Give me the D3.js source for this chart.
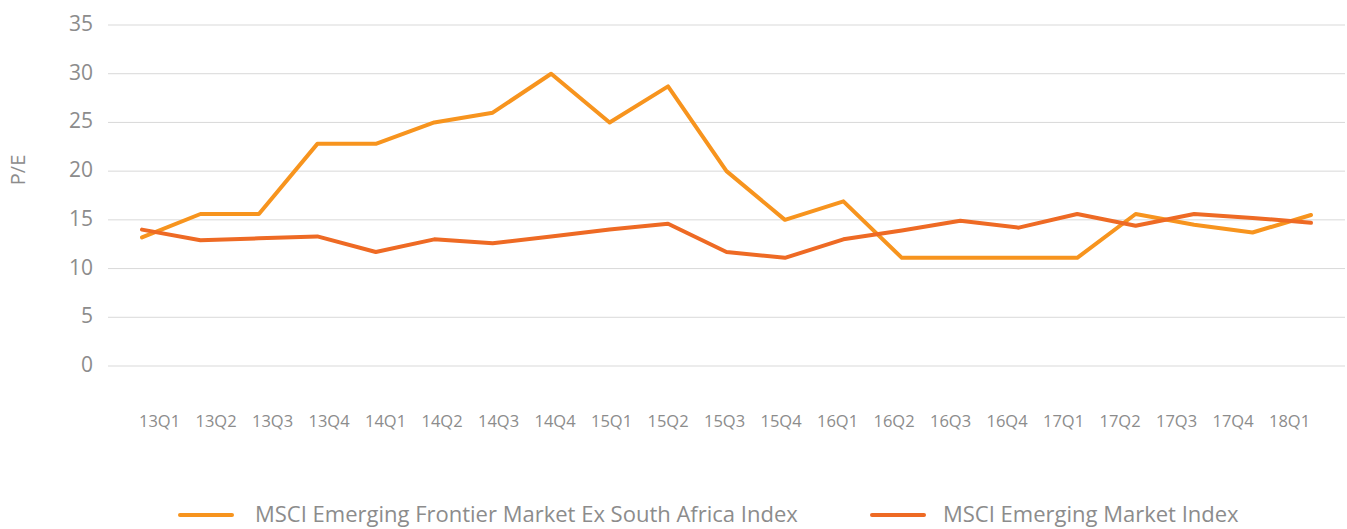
<!DOCTYPE html>
<html>
<head>
<meta charset="utf-8">
<script src="https://cdn.jsdelivr.net/npm/d3@7"></script>
<style>
  body { margin: 0; background: #fff; }
  svg text { font-family: "Open Sans", "Liberation Sans", sans-serif; fill: #8c8c8c; }
</style>
</head>
<body>
<div id="chart"></div>
<script>
// quarters on the x axis
const quarters = ["13Q1","13Q2","13Q3","13Q4","14Q1","14Q2","14Q3","14Q4","15Q1","15Q2",
  "15Q3","15Q4","16Q1","16Q2","16Q3","16Q4","17Q1","17Q2","17Q3","17Q4","18Q1"];

// P/E values
const frontierPE = [13.2,15.6,15.6,22.8,22.8,25.0,26.0,30.0,25.0,28.7,
  20.0,15.0,16.9,11.1,11.1,11.1,11.1,15.6,14.5,13.7,15.5];
const emergingPE = [14.0,12.9,13.1,13.3,11.7,13.0,12.6,13.3,14.0,14.6,
  11.7,11.1,13.0,13.9,14.9,14.2,15.6,14.4,15.6,15.2,14.7];

const yTicks = [0,5,10,15,20,25,30,35];
const seriesNames = ["MSCI Emerging Frontier Market Ex South Africa Index", "MSCI Emerging Market Index"];
const colors = ["#f7941e", "#ee6a24"];

const width = 1347, height = 529;

const svg = d3.select("#chart").append("svg")
  .attr("width", width)
  .attr("height", height);

const y = d3.scaleLinear().domain([0, 35]).range([366, 25]);

// lines and labels don't share quite the same spacing in the original
const xLine = d3.scalePoint().domain(quarters).range([142, 1311]);
const xLabel = d3.scalePoint().domain(quarters).range([139, 1269]);

// gridlines
svg.append("g")
  .selectAll("line")
  .data(yTicks)
  .join("line")
  .attr("x1", 108).attr("x2", 1345)
  .attr("y1", d => y(d)).attr("y2", d => y(d))
  .attr("stroke", "#d9d9d9")
  .attr("stroke-width", 1);

// y tick labels
svg.append("g")
  .selectAll("text")
  .data(yTicks)
  .join("text")
  .attr("x", 93)
  .attr("y", d => y(d) + 6)
  .attr("text-anchor", "end")
  .attr("font-size", 21)
  .text(d => d);

// y title
svg.append("text")
  .attr("transform", "translate(25,170) rotate(-90)")
  .attr("text-anchor", "middle")
  .attr("font-size", 20)
  .text("P/E");

// x labels
svg.append("g")
  .selectAll("text")
  .data(quarters)
  .join("text")
  .attr("x", d => xLabel(d))
  .attr("y", 427)
  .attr("font-size", 16.5)
  .text(d => d);

const line = d3.line()
  .x((d, i) => xLine(quarters[i]))
  .y(d => y(d));

[frontierPE, emergingPE].forEach((vals, k) => {
  svg.append("path")
    .datum(vals)
    .attr("d", line)
    .attr("fill", "none")
    .attr("stroke", colors[k])
    .attr("stroke-width", 4)
    .attr("stroke-linejoin", "round")
    .attr("stroke-linecap", "round");
});

// legend
const legendPos = [{ x: 180, tx: 255 }, { x: 872, tx: 943 }];
seriesNames.forEach((name, k) => {
  const g = svg.append("g");
  g.append("line")
    .attr("x1", legendPos[k].x).attr("x2", legendPos[k].x + 52)
    .attr("y1", 515).attr("y2", 515)
    .attr("stroke", colors[k])
    .attr("stroke-width", 4)
    .attr("stroke-linecap", "round");
  g.append("text")
    .attr("x", legendPos[k].tx)
    .attr("y", 522)
    .attr("font-size", 22)
    .text(name);
});
</script>
</body>
</html>
